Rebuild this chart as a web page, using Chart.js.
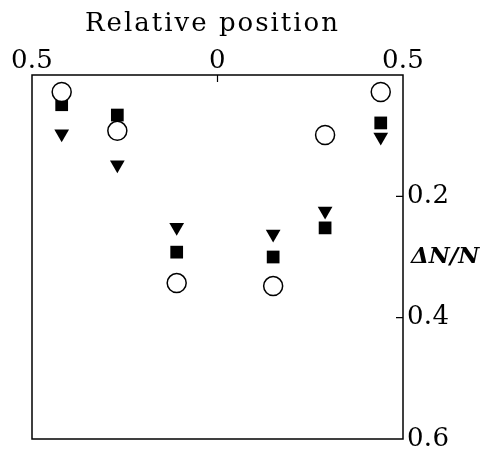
<!DOCTYPE html>
<html>
<head>
<meta charset="utf-8">
<script src="https://cdn.jsdelivr.net/npm/chart.js@4/dist/chart.umd.min.js"></script>
<style>
html,body{margin:0;padding:0;background:#fff;}
#wrap{width:481px;height:452px;}
</style>
</head>
<body>
<div id="wrap"><canvas id="c" width="481" height="452"></canvas></div>
<script>
const positions = [-0.42, -0.27, -0.11, 0.15, 0.29, 0.44];
const openCircles = [0.028, 0.092, 0.343, 0.348, 0.099, 0.028];
const filledSquares = [0.049, 0.066, 0.292, 0.300, 0.252, 0.079];
const filledTriangles = [0.097, 0.148, 0.251, 0.262, 0.224, 0.102];
const xTicks = [-0.5, 0, 0.5];
const yTicks = [0.2, 0.4, 0.6];
const xTitle = 'Relative position';
const yTitle = '\u0394N/N';

const toPts = arr => arr.map((v, i) => ({x: positions[i], y: v}));
const tickFont = {family: 'DejaVu Serif', size: 26};

const framePlugin = {
  id: 'frame',
  beforeDraw(chart) {
    chart.ctx.letterSpacing = '0.3px';
  },
  afterDraw(chart) {
    const {ctx, chartArea: a, scales} = chart;
    ctx.save();
    ctx.strokeStyle = '#000';
    ctx.lineWidth = 1.5;
    ctx.strokeRect(a.left, a.top, a.right - a.left, a.bottom - a.top);
    ctx.lineWidth = 1.2;
    ctx.beginPath();
    xTicks.forEach(v => {
      if (v === 0) {
        const px = scales.x.getPixelForValue(v);
        ctx.moveTo(px, a.top); ctx.lineTo(px, a.top + 7);
      }
    });
    yTicks.forEach(v => {
      if (v < 0.6) {
        const py = scales.y.getPixelForValue(v);
        ctx.moveTo(a.right - 7, py); ctx.lineTo(a.right, py);
      }
    });
    ctx.stroke();
    ctx.fillStyle = '#000';
    ctx.letterSpacing = '0px';
    ctx.font = 'italic bold 23px "DejaVu Serif"';
    ctx.textBaseline = 'middle';
    ctx.textAlign = 'left';
    ctx.fillText(yTitle, a.right + 8, scales.y.getPixelForValue(0.30));
    ctx.letterSpacing = '2px';
    ctx.font = '26px "DejaVu Serif"';
    ctx.textAlign = 'center';
    ctx.textBaseline = 'alphabetic';
    ctx.fillText(xTitle, (a.left + a.right) / 2 - 5, 31);
    ctx.restore();
  }
};

new Chart(document.getElementById('c'), {
  type: 'scatter',
  data: {
    datasets: [
      {label: 'circles', data: toPts(openCircles), pointStyle: 'circle', pointRadius: 9.5, pointHoverRadius: 9.5,
       backgroundColor: '#fff', borderColor: '#000', pointBorderWidth: 1.5},
      {label: 'squares', data: toPts(filledSquares), pointStyle: 'rect', pointRadius: 9, pointHoverRadius: 9,
       backgroundColor: '#000', borderColor: '#000', pointBorderWidth: 0},
      {label: 'triangles', data: toPts(filledTriangles), pointStyle: 'triangle', rotation: 180, pointRadius: 8.5, pointHoverRadius: 8.5,
       backgroundColor: '#000', borderColor: '#000', pointBorderWidth: 0}
    ]
  },
  options: {
    responsive: false,
    animation: false,
    events: [],
    layout: {padding: {left: 32, bottom: 13, top: 0, right: 0}},
    plugins: {legend: {display: false}, tooltip: {enabled: false}},
    scales: {
      x: {
        type: 'linear', position: 'top', min: -0.5, max: 0.5,
        afterBuildTicks: s => { s.ticks = xTicks.map(v => ({value: v})); },
        afterFit: s => { s.height = 75; s.paddingLeft = 0; s.paddingRight = 0; },
        grid: {display: false, drawTicks: false},
        border: {display: false},
        ticks: {color: '#000', font: tickFont, padding: -2, maxRotation: 0,
                callback: v => String(Math.abs(v))},
        title: {display: false}
      },
      y: {
        type: 'linear', position: 'right', reverse: true, min: 0, max: 0.6,
        afterBuildTicks: s => { s.ticks = yTicks.map(v => ({value: v})); },
        afterFit: s => { s.width = 78; s.paddingTop = 0; s.paddingBottom = 0; },
        grid: {display: false, drawTicks: false},
        border: {display: false},
        ticks: {color: '#000', font: tickFont, padding: 4,
                callback: v => String(v)}
      }
    }
  },
  plugins: [framePlugin]
});
</script>
</body>
</html>
